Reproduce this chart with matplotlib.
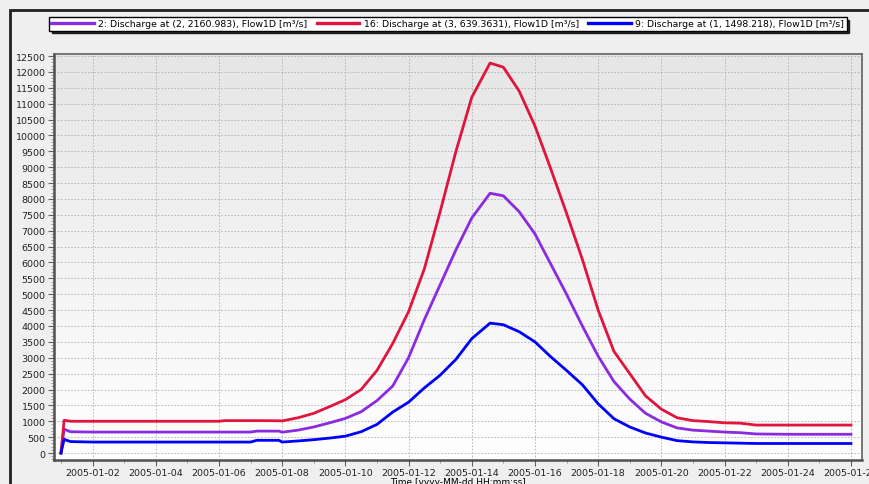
import numpy as np
import pandas as pd
import matplotlib
matplotlib.use("Agg")
import matplotlib.pyplot as plt
import matplotlib.dates as mdates
from matplotlib.patches import Rectangle
from matplotlib.ticker import MultipleLocator

# tiempo en dias desde 2005-01-01 00:00
dias = [0, 0.1, 0.3, 1, 2, 3, 4, 5, 5.2, 6, 6.2, 6.9, 7.0, 7.5, 8, 8.5, 9, 9.5,
        10, 10.5, 11, 11.5, 12, 12.5, 13, 13.58, 14, 14.5, 15, 15.5, 16, 16.5,
        17, 17.5, 18, 18.5, 19, 19.5, 20, 20.5, 21, 21.5, 22, 23, 24, 25]

q_2 = [0, 750, 670, 660, 660, 660, 660, 660, 660, 660, 690, 690, 655, 720, 820, 950,
       1090, 1300, 1650, 2110, 3000, 4200, 5300, 6400, 7400, 8180, 8100, 7600, 6900,
       5950, 5000, 4000, 3050, 2250, 1700, 1250, 980, 790, 720, 690, 660, 640, 600,
       590, 590, 590]
q_16 = [0, 1030, 1000, 1000, 1000, 1000, 1000, 1000, 1020, 1020, 1020, 1015, 1010,
        1110, 1250, 1460, 1680, 2000, 2600, 3450, 4450, 5800, 7600, 9500, 11200,
        12280, 12150, 11400, 10300, 8950, 7550, 6100, 4500, 3200, 2500, 1800, 1380,
        1110, 1020, 990, 950, 940, 880, 880, 880, 880]
q_9 = [0, 430, 360, 345, 345, 345, 345, 345, 345, 345, 400, 400, 345, 380, 420, 470,
       530, 670, 900, 1290, 1600, 2050, 2450, 2950, 3600, 4090, 4040, 3820, 3500,
       3030, 2600, 2150, 1550, 1080, 820, 630, 500, 390, 350, 330, 320, 310, 300,
       300, 300, 300]

etiquetas = ["2: Discharge at (2, 2160.983), Flow1D [m³/s]",
             "16: Discharge at (3, 639.3631), Flow1D [m³/s]",
             "9: Discharge at (1, 1498.218), Flow1D [m³/s]"]
colores = ["#8a2be2", "#e0143c", "#0000ff"]

t0 = pd.Timestamp("2005-01-01")
tiempo = t0 + pd.to_timedelta(dias, unit="D")

plt.rcParams["font.family"] = ["DejaVu Sans"]
plt.rcParams["font.size"] = 6.8

fig = plt.figure(figsize=(8.69, 4.85), dpi=100)
fig.patch.set_facecolor("#efefef")
fig.patches.append(Rectangle((10 / 869, -0.05), 1.0, 1 - 11 / 485 + 0.05,
                             transform=fig.transFigure, fill=False,
                             edgecolor="#202020", linewidth=2))

ax = fig.add_axes([54 / 869, 1 - 461 / 485, (862 - 54) / 869, (461 - 55) / 485])

# fondo degradado del area de grafico
grad = np.linspace(0, 1, 256).reshape(-1, 1)
ax.imshow(grad, cmap=matplotlib.colors.LinearSegmentedColormap.from_list(
    "g", ["#e6e6e6", "#ffffff"]), aspect="auto", extent=[0, 1, 0, 1],
    transform=ax.transAxes, zorder=0)

for serie, col, lab in zip([q_2, q_16, q_9], colores, etiquetas):
    ax.plot(tiempo, serie, color=col, lw=2.0, label=lab, zorder=3)

ax.set_xlim(t0 - pd.Timedelta(days=0.22), t0 + pd.Timedelta(days=25.35))
ax.set_ylim(-220, 12565)

ax.yaxis.set_major_locator(MultipleLocator(500))
ax.yaxis.set_minor_locator(MultipleLocator(100))
ax.xaxis.set_major_locator(mdates.DayLocator(bymonthday=range(2, 32, 2)))
ax.xaxis.set_minor_locator(mdates.DayLocator())
ax.xaxis.set_major_formatter(mdates.DateFormatter("%Y-%m-%d"))

ax.grid(True, which="major", color="#b0b0b0", linestyle=(0, (2, 2)),
        linewidth=0.6, zorder=1)
ax.set_axisbelow(True)
ax.tick_params(which="major", length=4, pad=2, color="#606060", labelcolor="#222222")
ax.tick_params(which="minor", length=2, color="#909090")

for lado in ["left", "bottom"]:
    ax.spines[lado].set_color("#505050")
    ax.spines[lado].set_linewidth(1.8)
for lado in ["top", "right"]:
    ax.spines[lado].set_color("#606060")
    ax.spines[lado].set_linewidth(1.2)

ax.set_xlabel("Time [yyyy-MM-dd HH:mm:ss]", labelpad=0, fontsize=6.5)

leg = fig.legend(loc="upper left", bbox_to_anchor=(49 / 869, 1 - 18 / 485), ncol=3,
                 frameon=True, fancybox=False, shadow={"color": "black", "alpha": 0.8},
                 framealpha=1, edgecolor="black", handlelength=4.5, handletextpad=0.5,
                 columnspacing=1.0, borderpad=0.25, borderaxespad=0, fontsize=6.75)
leg.get_frame().set_linewidth(1.0)
for linea in leg.get_lines():
    linea.set_linewidth(2.4)

fig.savefig("out.png", dpi=100, facecolor=fig.get_facecolor())
